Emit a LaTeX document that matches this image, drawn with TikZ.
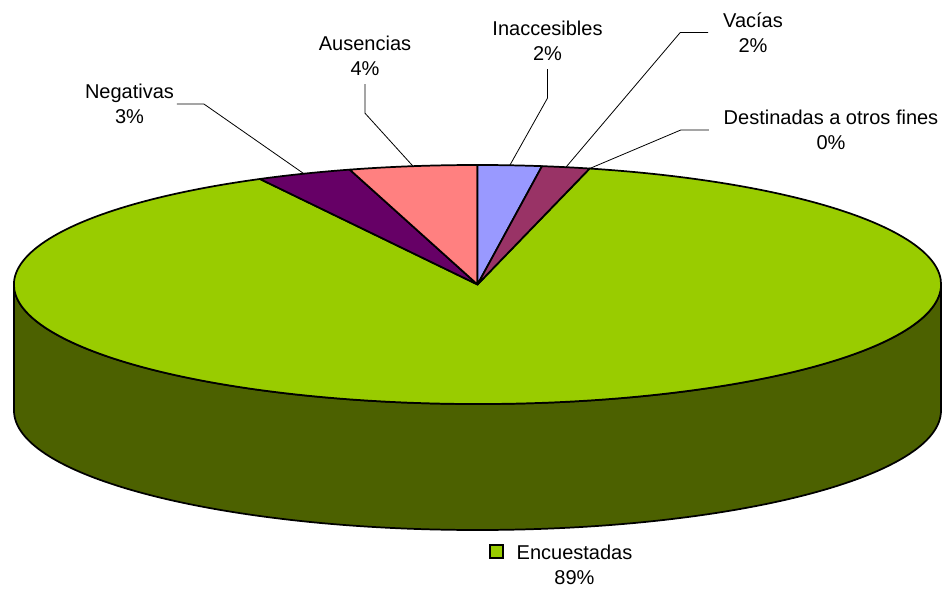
\documentclass[tikz,border=0pt]{standalone}
\usepackage{fontspec}
\setmainfont{Liberation Sans}
\usetikzlibrary{positioning}
\definecolor{verde}{RGB}{153,204,0}
\definecolor{verdeosc}{RGB}{76,97,0}
\definecolor{morado}{RGB}{102,0,102}
\definecolor{salmon}{RGB}{255,128,128}
\definecolor{lila}{RGB}{153,153,255}
\definecolor{vino}{RGB}{153,51,102}
\tikzset{
   lbl/.style={font=\fontsize{15}{18.75}\selectfont, align=center, inner sep=2pt},
   leader/.style={line width=0.6pt},
   rim/.style={line width=1.3pt, line join=round}
}

\begin{document}
\begin{tikzpicture}[x=0.75pt,y=0.75pt,x radius=463.5,y radius=119.5]
      \useasboundingbox (-477.5,-303.5) rectangle (466.5,284.5);

      \filldraw[rim,fill=verdeosc] (180:463.5 and 119.5) -- ++(0,-126)
         arc[start angle=180,end angle=360] -- ++(0,126)
         arc[start angle=360,end angle=180] -- cycle;

      \filldraw[rim,fill=verde] (0,0) -- (118:463.5 and 119.5) arc[start angle=118,end angle=436] -- cycle;
      \filldraw[rim,fill=morado] (0,0) -- (106:463.5 and 119.5) arc[start angle=106,end angle=118] -- cycle;
      \filldraw[rim,fill=salmon] (0,0) -- (90:463.5 and 119.5) arc[start angle=90,end angle=106] -- cycle;
      \filldraw[rim,fill=lila] (0,0) -- (82:463.5 and 119.5) arc[start angle=82,end angle=90] -- cycle;
      \filldraw[rim,fill=vino] (0,0) -- (76:463.5 and 119.5) arc[start angle=76,end angle=82] -- cycle;

      \node[lbl] (neg) at (-348,180.5) {Negativas\\3\%};
      \node[lbl,inner ysep=6.4pt] (aus) at (-112.5,228.9) {Ausencias\\4\%};
      \node[lbl,inner ysep=6.4pt] (ina) at (70,244) {Inaccesibles\\2\%};
      \node[lbl,inner xsep=11pt] (vac) at (275.5,252) {Vacías\\2\%};
      \node[lbl,inner xsep=11pt] (des) at (353.5,154.5) {Destinadas a otros fines\\0\%};

      \coordinate[right=20.25pt of neg] (neg1);
      \coordinate[below=21.75pt of aus] (aus1);
      \coordinate[below=21.75pt of ina] (ina1);
      \coordinate[left=21pt of vac] (vac1);
      \coordinate[left=21pt of des] (des1);

      \coordinate (neg2) at (112:463.5 and 119.5);
      \coordinate (aus2) at (98:463.5 and 119.5);
      \coordinate (ina2) at (86:463.5 and 119.5);
      \coordinate (vac2) at (79:463.5 and 119.5);
      \coordinate (des2) at (76:463.5 and 119.5);

      \draw[leader] (neg.east) -- (neg1) -- (neg2);
      \draw[leader] (aus.south) -- (aus1) -- (aus2);
      \draw[leader] (ina.south) -- (ina1) -- (ina2);
      \draw[leader] (vac.west) -- (vac1) -- (vac2);
      \draw[leader] (des.west) -- (des1) -- (des2);

      \node[draw,line width=1pt,fill=verde,minimum size=9.75pt,inner sep=0pt] (key) at (19,-267) {};
      \node[lbl] (enc) at (97,-280) {Encuestadas\\89\%};
\end{tikzpicture}
\end{document}
